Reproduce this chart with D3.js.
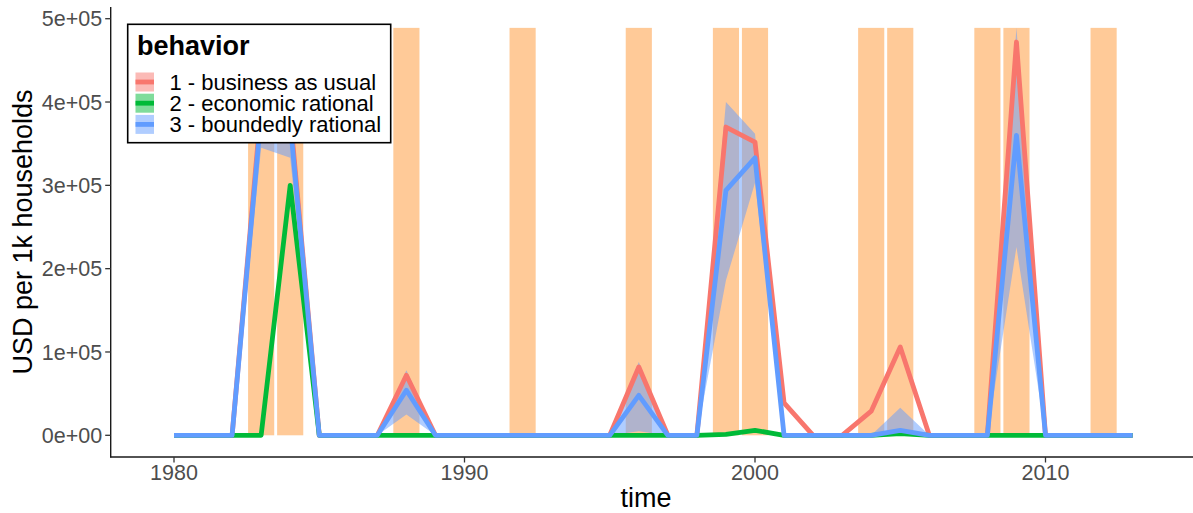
<!DOCTYPE html>
<html>
<head>
<meta charset="utf-8">
<script src="https://cdn.jsdelivr.net/npm/d3@7"></script>
<style>
  html, body { margin: 0; padding: 0; background: #fff; }
  svg { display: block; }
  text { font-family: "Liberation Sans", Arial, sans-serif; }
</style>
</head>
<body>
<svg id="chart" width="1193" height="513"></svg>
<script>
// ---------------- data ----------------
const years = [1980,1981,1982,1983,1984,1985,1986,1987,1988,1989,1990,1991,1992,1993,1994,1995,1996,1997,1998,1999,2000,2001,2002,2003,2004,2005,2006,2007,2008,2009,2010,2011,2012,2013];
const businessAsUsual = [0,0,0,395000,385000,0,0,0,72000,0,0,0,0,0,0,0,82000,0,0,370000,352000,39000,0,0,29000,106000,0,0,0,472000,0,0,0,0];
const economicRational = [0,0,0,0,300000,0,0,0,0,0,0,0,0,0,0,0,0,0,0,1000,6000,0,0,0,0,2000,0,0,0,0,0,0,0,0];
const boundedlyRational = [0,0,0,385000,375000,0,0,0,54000,0,0,0,0,0,0,0,48000,0,0,294000,333000,0,0,0,0,6000,0,0,0,360000,0,0,0,0];
const boundedlyLow = [0,0,0,345000,333000,0,0,0,25000,0,0,0,0,0,0,0,5000,0,0,186000,303000,0,0,0,0,0,0,0,0,226000,0,0,0,0];
const boundedlyHigh = [0,0,0,425000,415000,0,0,0,78000,0,0,0,0,0,0,0,88000,0,0,400000,362000,0,0,0,0,33000,0,0,0,489000,0,0,0,0];
const droughtYears = [1983,1984,1988,1992,1996,1999,2000,2004,2005,2008,2009,2012];
const droughtHeight = 489000;
const seriesNames = ["1 - business as usual","2 - economic rational","3 - boundedly rational"];
const seriesColors = ["#F8766D","#00BA38","#619CFF"];
const xTicks = [1980,1990,2000,2010];
const yTicks = [0,100000,200000,300000,400000,500000];
const yTickLabels = ["0e+00","1e+05","2e+05","3e+05","4e+05","5e+05"];

// ---------------- layout ----------------
const svg = d3.select("#chart");
const panel = {left: 110.7, right: 1193, top: 7, bottom: 457};
const x = d3.scaleLinear().domain([1980, 2010]).range([174, 1045.5]);
const y = d3.scaleLinear().domain([0, 500000]).range([435.3, 18.7]);
const barW = x(1980.9) - x(1980);

// drought bars
svg.append("g").selectAll("rect").data(droughtYears).join("rect")
  .attr("x", d => x(d) - barW / 2)
  .attr("width", barW)
  .attr("y", y(droughtHeight))
  .attr("height", y(0) - y(droughtHeight))
  .attr("fill", "#FFCA98");

// ribbons
const seriesVals = [businessAsUsual, economicRational, boundedlyRational];
const lows = [businessAsUsual, economicRational, boundedlyLow];
const highs = [businessAsUsual, economicRational, boundedlyHigh];
const area = d3.area().x(d => x(d.t)).y0(d => y(d.lo)).y1(d => y(d.hi));
seriesVals.forEach((vals, i) => {
  const pts = years.map((t, k) => ({t, lo: lows[i][k], hi: highs[i][k]}));
  svg.append("path").datum(pts)
    .attr("d", area)
    .attr("fill", seriesColors[i])
    .attr("fill-opacity", 0.5);
});

// lines
const line = d3.line().x(d => x(d.t)).y(d => y(d.v));
seriesVals.forEach((vals, i) => {
  const pts = years.map((t, k) => ({t, v: vals[k]}));
  svg.append("path").datum(pts)
    .attr("d", line)
    .attr("fill", "none")
    .attr("stroke", seriesColors[i])
    .attr("stroke-width", 4.8)
    .attr("stroke-linejoin", "round");
});

// axes
const axisG = svg.append("g");
axisG.append("line").attr("x1", panel.left).attr("x2", panel.left)
  .attr("y1", panel.top).attr("y2", panel.bottom + 0.6)
  .attr("stroke", "#1a1a1a").attr("stroke-width", 1.4);
axisG.append("line").attr("x1", panel.left - 0.6).attr("x2", panel.right)
  .attr("y1", panel.bottom).attr("y2", panel.bottom)
  .attr("stroke", "#1a1a1a").attr("stroke-width", 1.4);

axisG.selectAll(".yt").data(yTicks).join("line")
  .attr("x1", panel.left - 5.5).attr("x2", panel.left)
  .attr("y1", d => y(d)).attr("y2", d => y(d))
  .attr("stroke", "#333").attr("stroke-width", 1.3);
axisG.selectAll(".ytl").data(yTicks).join("text")
  .attr("x", panel.left - 8.5).attr("y", d => y(d))
  .attr("dy", "0.35em")
  .attr("text-anchor", "end")
  .attr("font-size", 21.5).attr("fill", "#4D4D4D")
  .text((d, i) => yTickLabels[i]);

axisG.selectAll(".xt").data(xTicks).join("line")
  .attr("x1", d => x(d)).attr("x2", d => x(d))
  .attr("y1", panel.bottom).attr("y2", panel.bottom + 5.5)
  .attr("stroke", "#333").attr("stroke-width", 1.3);
axisG.selectAll(".xtl").data(xTicks).join("text")
  .attr("x", d => x(d)).attr("y", 480)
  .attr("text-anchor", "middle")
  .attr("font-size", 21.5).attr("fill", "#4D4D4D")
  .text(d => d);

// axis titles
svg.append("text").attr("x", 646).attr("y", 507)
  .attr("text-anchor", "middle").attr("font-size", 27).attr("fill", "#000")
  .text("time");
svg.append("text").attr("transform", "translate(32,232) rotate(-90)")
  .attr("text-anchor", "middle").attr("font-size", 27).attr("fill", "#000")
  .text("USD per 1k households");

// legend
const lg = svg.append("g");
const rowPitch = 21.2;
lg.append("rect").attr("x", 127.7).attr("y", 24.3).attr("width", 263).attr("height", 118.4)
  .attr("fill", "#fff").attr("stroke", "#000").attr("stroke-width", 1.6);
lg.append("text").attr("x", 137).attr("y", 54.5)
  .attr("font-size", 27).attr("font-weight", "bold").attr("fill", "#000")
  .text("behavior");
seriesNames.forEach((name, i) => {
  const cy = 82 + i * rowPitch;
  lg.append("rect").attr("x", 135.5).attr("y", cy - 9.5).attr("width", 18.5).attr("height", 19)
    .attr("fill", seriesColors[i]).attr("fill-opacity", 0.5);
  lg.append("line").attr("x1", 135.5).attr("x2", 154).attr("y1", cy).attr("y2", cy)
    .attr("stroke", seriesColors[i]).attr("stroke-width", 4.8);
});
// labels as one text block with tightly spaced lines (as in the reference)
const labelBlock = lg.append("text").attr("font-size", 22).attr("fill", "#000");
labelBlock.selectAll("tspan").data(seriesNames).join("tspan")
  .attr("x", 169.5)
  .attr("y", (d, i) => 82 + i * rowPitch + 7.8)
  .text(d => d);
</script>
</body>
</html>
